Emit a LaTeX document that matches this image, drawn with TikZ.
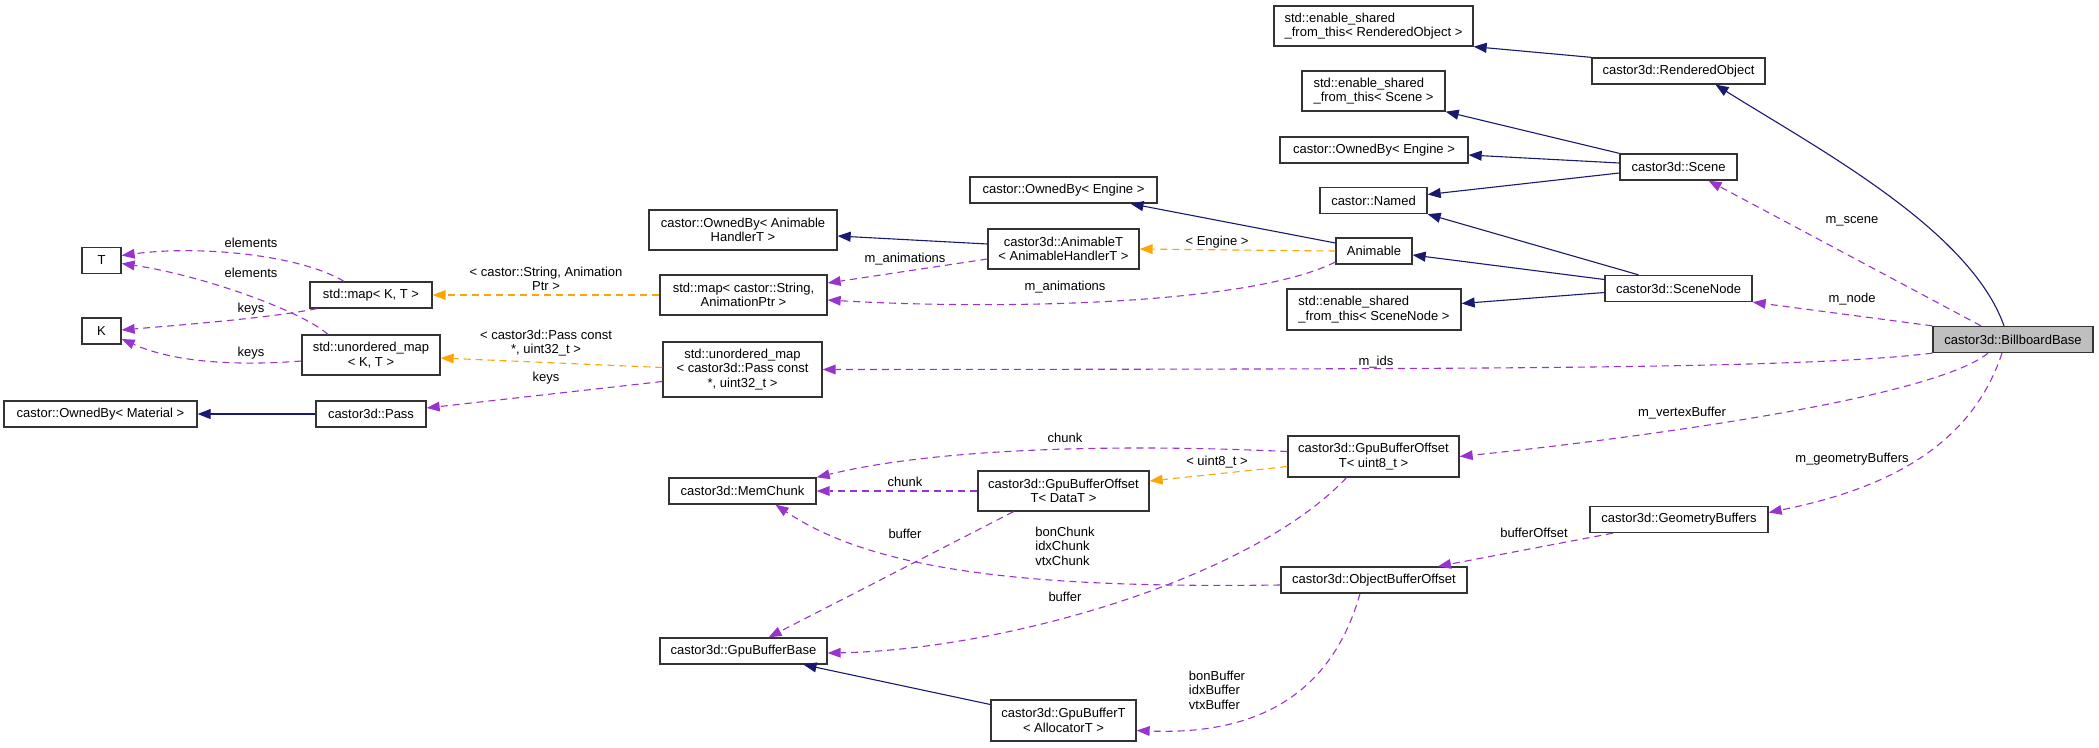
\documentclass[tikz,border=0pt]{standalone}
\usepackage{fontspec}
\setmainfont{Liberation Sans}
\usetikzlibrary{arrows.meta}
\definecolor{inhblue}{HTML}{191970}
\definecolor{usepurple}{HTML}{9A32CD}
\definecolor{tmplorange}{HTML}{FFA500}
\begin{document}
\begin{tikzpicture}[x=1pt,y=-1pt,
  every node/.style={inner sep=0pt,font=\fontsize{13}{14.5}\selectfont},
  cls/.style={draw=black!80,line width=1.3pt,fill=white,align=center},
  inh/.style={draw=inhblue,line width=1.1pt,-{Triangle[length=13pt,width=10pt]}},
  use/.style={draw=usepurple,line width=1.1pt,dash pattern=on 7pt off 5pt,-{Triangle[length=13pt,width=10pt,fill=usepurple,line width=0pt]}},
  tmpl/.style={draw=tmplorange,line width=1.1pt,dash pattern=on 7pt off 5pt,-{Triangle[length=13pt,width=10pt,fill=tmplorange,line width=0pt]}},
  lbl/.style={align=center},
  lbll/.style={align=left}]
\useasboundingbox (0,0) rectangle (2099,747);
% classes
\node (esftRO) at (1373.5,26) [cls,align=left,minimum width=199pt,minimum height=40pt] {std::enable\_shared\\\_from\_this< RenderedObject >};
\node (ro) at (1678.5,71) [cls,minimum width=173pt,minimum height=26pt] {castor3d::RenderedObject};
\node (esftScene) at (1373.5,91) [cls,align=left,minimum width=143pt,minimum height=40pt] {std::enable\_shared\\\_from\_this< Scene >};
\node (ownedEngineR) at (1374,150) [cls,minimum width=188pt,minimum height=26pt] {castor::OwnedBy< Engine >};
\node (scene) at (1678.5,167) [cls,minimum width=117pt,minimum height=26pt] {castor3d::Scene};
\node (named) at (1373.5,200.5) [cls,minimum width=107pt,minimum height=26pt] {castor::Named};
\node (animable) at (1374,251) [cls,minimum width=76pt,minimum height=26pt] {Animable};
\node (sceneNode) at (1678.5,288.5) [cls,minimum width=147pt,minimum height=26pt] {castor3d::SceneNode};
\node (esftSceneNode) at (1374,309.5) [cls,align=left,minimum width=174pt,minimum height=41pt] {std::enable\_shared\\\_from\_this< SceneNode >};
\node (billboard) at (2013,339.5) [cls,fill=black!25,minimum width=160pt,minimum height=26pt] {castor3d::BillboardBase};
\node (ownedEngineM) at (1063.5,190) [cls,minimum width=187pt,minimum height=26pt] {castor::OwnedBy< Engine >};
\node (ownedHandler) at (743,230) [cls,minimum width=188pt,minimum height=40pt] {castor::OwnedBy< Animable\\HandlerT >};
\node (animableT) at (1063.5,249) [cls,minimum width=151pt,minimum height=40pt] {castor3d::AnimableT\\< AnimableHandlerT >};
\node (mapString) at (743.5,295) [cls,minimum width=167pt,minimum height=40pt] {std::map< castor::String,\\AnimationPtr >};
\node (umapPass) at (742.5,369.5) [cls,minimum width=159pt,minimum height=55pt] {std::unordered\_map\\< castor3d::Pass const\\*, uint32\_t >};
\node (T) at (101.5,260.5) [cls,minimum width=39pt,minimum height=26pt] {T};
\node (K) at (101.5,331) [cls,minimum width=39pt,minimum height=26pt] {K};
\node (mapKT) at (371,295) [cls,minimum width=122pt,minimum height=26pt] {std::map< K, T >};
\node (umapKT) at (371,355) [cls,minimum width=138pt,minimum height=40pt] {std::unordered\_map\\< K, T >};
\node (ownedMaterial) at (100.5,414) [cls,minimum width=193pt,minimum height=26pt] {castor::OwnedBy< Material >};
\node (pass) at (371,414) [cls,minimum width=110pt,minimum height=26pt] {castor3d::Pass};
\node (gbo8) at (1373.5,456.5) [cls,minimum width=171pt,minimum height=41pt] {castor3d::GpuBufferOffset\\T< uint8\_t >};
\node (memChunk) at (742.5,491) [cls,minimum width=147pt,minimum height=26pt] {castor3d::MemChunk};
\node (gboData) at (1063.5,491) [cls,minimum width=171pt,minimum height=40pt] {castor3d::GpuBufferOffset\\T< DataT >};
\node (geomBuffers) at (1679,519.5) [cls,minimum width=178pt,minimum height=26pt] {castor3d::GeometryBuffers};
\node (objBO) at (1374,580) [cls,minimum width=186pt,minimum height=26pt] {castor3d::ObjectBufferOffset};
\node (gpuBase) at (743.5,651) [cls,minimum width=167pt,minimum height=26pt] {castor3d::GpuBufferBase};
\node (gpuT) at (1063.5,720.5) [cls,minimum width=145pt,minimum height=41pt] {castor3d::GpuBufferT\\< AllocatorT >};
% inheritance
\draw [inh] (ro.north west) -- (esftRO.south east);
\draw [inh] ([xshift=-9pt]billboard.north) .. controls (1970,230) and (1820,150) .. ([xshift=37pt]ro.south);
\draw [inh] (scene.north west) -- (esftScene.south east);
\draw [inh] ([yshift=4pt]scene.west) -- ([yshift=-5pt]ownedEngineR.east);
\draw [inh] ([yshift=-6pt]scene.west) -- ([yshift=6pt]named.east);
\draw [inh] ([xshift=-40pt]sceneNode.north) -- (named.south east);
\draw [inh] ([yshift=9pt]sceneNode.west) -- ([yshift=-4pt]animable.east);
\draw [inh] ([yshift=-4pt]sceneNode.west) -- ([yshift=6pt]esftSceneNode.east);
\draw [inh] ([yshift=8pt]animable.west) -- ([xshift=67pt]ownedEngineM.south);
\draw [inh] ([yshift=5pt]animableT.west) -- ([yshift=-6pt]ownedHandler.east);
\draw [inh] (pass.west) -- (ownedMaterial.east);
\draw [inh] ([yshift=16pt]gpuT.west) -- ([xshift=60pt]gpuBase.south);
% templates
\draw [tmpl] (animable.west) -- (animableT.east);
\node (lEngine) at (1217,242) [lbl] {< Engine >};
\draw [tmpl] (mapString.west) -- (mapKT.east);
\node (lString) at (546,279) [lbl] {< castor::String, Animation\\Ptr >};
\draw [tmpl] ([yshift=2pt]umapPass.west) -- ([yshift=-3pt]umapKT.east);
\node (lPassConst) at (546,343) [lbl] {< castor3d::Pass const\\*, uint32\_t >};
\draw [tmpl] ([yshift=-10pt]gbo8.west) -- ([yshift=10pt]gboData.east);
\node (lUint) at (1217,462) [lbl] {< uint8\_t >};
% usage
\draw [use] ([xshift=-27pt]mapKT.north) .. controls (300,255) and (200,245) .. ([yshift=5pt]T.east);
\node (lElemA) at (251,243) [lbl] {elements};
\draw [use] ([xshift=-43pt]umapKT.north) .. controls (300,310) and (200,275) .. ([yshift=-3pt]T.east);
\node (lElemB) at (251,273) [lbl] {elements};
\draw [use] ([xshift=-54pt]mapKT.south) .. controls (270,318) and (180,325) .. ([yshift=1pt]K.east);
\node (lKeysA) at (251,309) [lbl] {keys};
\draw [use] ([yshift=-6pt]umapKT.west) .. controls (250,365) and (180,365) .. ([yshift=-8pt]K.east);
\node (lKeysB) at (251,353) [lbl] {keys};
\draw [use] ([yshift=-12pt]umapPass.west) -- ([yshift=6pt]pass.east);
\node (lKeysC) at (546,378) [lbl] {keys};
\draw [use] ([yshift=-10pt]animableT.west) -- ([yshift=12pt]mapString.east);
\node (lAnimA) at (905,259) [lbl] {m\_animations};
\draw [use] ([yshift=-11pt]animable.west) .. controls (1250,305) and (1000,310) .. ([yshift=-5pt]mapString.east);
\node (lAnimB) at (1065,287) [lbl] {m\_animations};
\draw [use] ([xshift=-32pt]billboard.north) -- ([xshift=30pt]scene.south);
\node (lScene) at (1852,221) [lbl] {m\_scene};
\draw [use] (billboard.north west) -- (sceneNode.south east);
\node (lNode) at (1852,299) [lbl] {m\_node};
\draw [use] (billboard.south west) .. controls (1800,369) and (1500,369) .. (umapPass.east);
\node (lIds) at (1376,362) [lbl] {m\_ids};
\draw [use] ([xshift=-25pt]billboard.south) .. controls (1930,400) and (1620,440) .. (gbo8.east);
\node (lVertex) at (1682,413) [lbl] {m\_vertexBuffer};
\draw [use] ([xshift=-11pt]billboard.south) .. controls (1970,450) and (1880,490) .. ([yshift=7pt]geomBuffers.east);
\node (lGeom) at (1852,459) [lbl] {m\_geometryBuffers};
\draw [use] ([xshift=-66pt]geomBuffers.south) -- ([xshift=64pt]objBO.north);
\node (lBufOff) at (1534,533) [lbl] {bufferOffset};
\draw [use] ([yshift=5pt]gbo8.west) .. controls (1150,445) and (950,445) .. (memChunk.north east);
\node (lChunkA) at (1065,438) [lbl] {chunk};
\draw [use] (gboData.west) -- (memChunk.east);
\node (lChunkB) at (905,482) [lbl] {chunk};
\draw [use] ([yshift=-5pt]objBO.west) .. controls (1050,588) and (880,575) .. ([xshift=33pt]memChunk.south);
\node (lChunks) at (1065,546) [lbll] {bonChunk\\idxChunk\\vtxChunk};
\draw [use] ([xshift=-50pt]gboData.south) -- ([xshift=25pt]gpuBase.north);
\node (lBufA) at (905,534) [lbl] {buffer};
\draw [use] ([xshift=-27pt]gbo8.south) .. controls (1250,580) and (1000,650) .. ([yshift=-2pt]gpuBase.east);
\node (lBufB) at (1065,597) [lbl] {buffer};
\draw [use] ([xshift=-14pt]objBO.south) .. controls (1330,700) and (1250,735) .. ([yshift=-10pt]gpuT.east);
\node (lBuffers) at (1217,690) [lbll] {bonBuffer\\idxBuffer\\vtxBuffer};
\end{tikzpicture}
\end{document}
